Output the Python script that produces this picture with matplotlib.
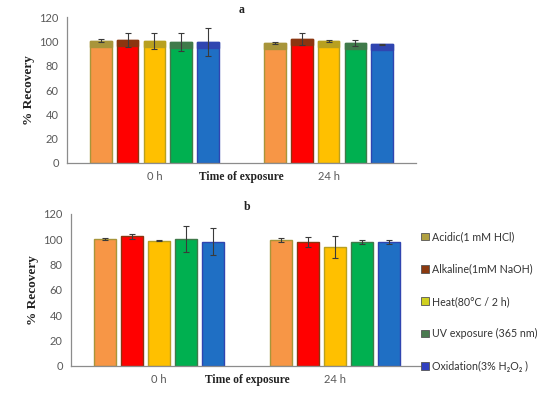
import numpy as np
import matplotlib
matplotlib.use("Agg")
import matplotlib.pyplot as plt
from matplotlib.patches import Patch

# ── Data ───────────────────────────────────────────────────────────────────────
treatments = ["Acidic(1 mM HCl)", "Alkaline(1mM NaOH)", "Heat(80°C / 2 h)",
              "UV exposure (365 nm)", "Oxidation(3% H\u2082O\u2082 )"]
time_labels = ["0 h", "Time of exposure", "24 h"]

a_0h = [100.5, 101.0, 100.6, 99.7, 99.7]
a_0h_err = [1.2, 5.5, 6.5, 7.5, 11.5]
a_24h = [98.8, 102.2, 100.5, 99.0, 97.5]
a_24h_err = [0.6, 5.0, 1.0, 2.5, 0.7]

b_0h = [100.2, 102.4, 98.9, 100.5, 98.1]
b_0h_err = [0.5, 2.0, 0.4, 10.2, 10.8]
b_24h = [99.5, 98.1, 93.9, 98.1, 98.1]
b_24h_err = [1.5, 3.8, 9.0, 1.5, 1.5]

# ── Style ──────────────────────────────────────────────────────────────────────
FILLS = ["#f79646", "#ff0000", "#ffc000", "#00b050", "#1f6fc4"]
EDGES = ["#a8953a", "#8b3510", "#b8a020", "#3f7a4a", "#2f45b0"]
LEG_COLORS = ["#b0a040", "#8b3a10", "#d0d020", "#4a7a50", "#3040c0"]
GRAY = "#595959"
SANS = "Lato"
SERIF = "Liberation Serif"

x0 = np.arange(5)
x24 = np.arange(5) + 6.5
width = 0.81


def draw_panel(ax, v0, e0, v24, e24, title, cap=0.0):
    for xs, vals, errs in [(x0, v0, e0), (x24, v24, e24)]:
        ax.bar(xs, vals, width, color=FILLS, edgecolor=EDGES, linewidth=1.0, zorder=2)
        if cap > 0:
            # darker cap on the top of each bar (as in panel a)
            ax.bar(xs, [cap] * 5, width, bottom=np.array(vals) - cap,
                   color=EDGES, edgecolor=EDGES, linewidth=1.0, zorder=2)
        ax.errorbar(xs, vals, yerr=errs, fmt="none", ecolor="#3a3a3a",
                    elinewidth=0.8, capsize=2.5, capthick=0.8, zorder=3)
    ax.set_xlim(-1.26, 11.76)
    ax.set_ylim(0, 120)
    ax.set_yticks(range(0, 121, 20))
    ax.set_xticks([2, 5.25, 8.5])
    ax.set_xticklabels(time_labels)
    ax.tick_params(length=0, colors=GRAY, labelsize=8, pad=6)
    for lab in ax.get_yticklabels() + ax.get_xticklabels():
        lab.set_fontfamily(SANS)
    mid = ax.get_xticklabels()[1]
    mid.set_fontfamily(SERIF)
    mid.set_fontweight("bold")
    mid.set_color("#222222")
    mid.set_fontsize(8.3)
    for s in ["top", "right"]:
        ax.spines[s].set_visible(False)
    for s in ["left", "bottom"]:
        ax.spines[s].set_color("#8c8c8c")
        ax.spines[s].set_linewidth(0.9)
    ax.set_ylabel("% Recovery", family=SERIF, fontweight="bold", fontsize=9.5,
                  color="#222222", labelpad=3)
    ax.set_title(title, family=SERIF, fontweight="bold", fontsize=8.5,
                 color="#222222", x=(5.25 + 1.26) / 13.02, pad=3)


fig = plt.figure(figsize=(5.5, 3.96), dpi=100)
ax_a = fig.add_axes([0.1218, 0.5884, 0.6345, 0.3686])
ax_b = fig.add_axes([0.1291, 0.0758, 0.6400, 0.3838])

draw_panel(ax_a, a_0h, a_0h_err, a_24h, a_24h_err, "a", cap=5.0)
draw_panel(ax_b, b_0h, b_0h_err, b_24h, b_24h_err, "b")

handles = [Patch(facecolor=c, edgecolor="#555555", linewidth=0.6) for c in LEG_COLORS]
leg = fig.legend(handles, treatments, loc="upper left", bbox_to_anchor=(0.758, 0.427),
                 frameon=False, prop={"family": SANS, "size": 7.7},
                 handlelength=0.7, handleheight=0.7, handletextpad=0.3,
                 labelspacing=2.0, borderaxespad=0)
for t in leg.get_texts():
    t.set_color("#333333")

plt.savefig("out.png", dpi=100)
